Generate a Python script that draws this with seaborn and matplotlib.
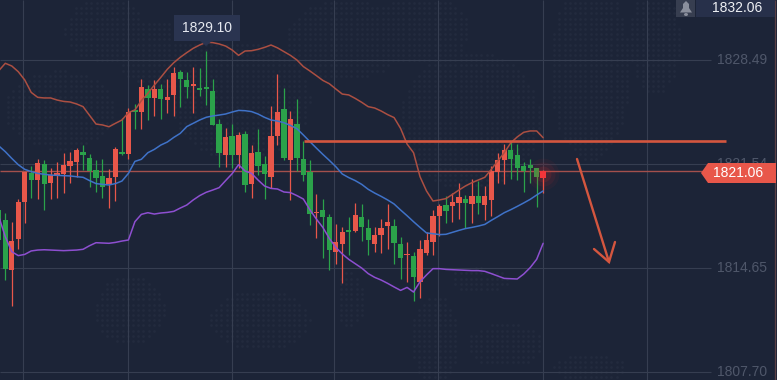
import numpy as np
import pandas as pd
import matplotlib.pyplot as plt
from matplotlib.patches import Polygon, Rectangle, Ellipse
import seaborn as sns

# candle index -1 sits just off the left edge, 83 is the live candle
candle_idx = list(range(-1, 84))

opens = [1818.49, 1817.82, 1814.49, 1816.56, 1819.02, 1820.93, 1820.49, 1821.53, 1820.29, 1820.78, 1820.89,
         1821.42, 1821.69, 1822.36, 1821.96, 1821.13, 1820.76, 1820.22, 1820.69, 1822.33, 1822.22, 1825.16,
         1825.02, 1826.53, 1825.96, 1826.53, 1825.82, 1826.16, 1827.67, 1827.13, 1826.78, 1826.60, 1826.60,
         1826.42, 1824.22, 1822.16, 1823.42, 1822.16, 1823.56, 1820.22, 1822.36, 1821.56, 1820.71, 1823.42,
         1825.22, 1821.82, 1824.22, 1821.89, 1821.00, 1818.29, 1818.49, 1818.02, 1815.69, 1816.22, 1817.11,
         1817.09, 1818.02, 1817.29, 1816.22, 1816.82, 1817.45, 1817.42, 1816.22, 1815.47, 1815.42, 1813.69,
         1815.62, 1816.36, 1818.09, 1818.82, 1818.76, 1818.96, 1819.22, 1818.89, 1819.42, 1818.82, 1819.16,
         1821.02, 1821.82, 1822.49, 1822.16, 1821.42, 1821.49, 1821.29, 1820.62]
closes = [1816.49, 1814.58, 1816.42, 1819.02, 1821.00, 1820.49, 1821.62, 1820.22, 1820.82, 1820.93, 1821.49,
          1821.73, 1822.49, 1822.16, 1821.09, 1820.62, 1820.02, 1820.60, 1822.53, 1822.22, 1825.02, 1825.05,
          1826.69, 1825.93, 1826.53, 1825.89, 1826.02, 1827.60, 1827.22, 1826.69, 1826.82, 1826.49, 1826.56,
          1824.16, 1822.29, 1823.36, 1822.16, 1823.49, 1820.16, 1822.29, 1821.42, 1820.89, 1823.42, 1825.02,
          1821.96, 1824.56, 1821.96, 1820.82, 1818.22, 1818.36, 1818.02, 1815.82, 1816.33, 1817.02, 1817.05,
          1818.16, 1817.36, 1816.49, 1816.82, 1817.29, 1817.67, 1816.29, 1815.29, 1815.51, 1814.02, 1815.89,
          1816.49, 1818.09, 1818.76, 1818.42, 1819.02, 1819.36, 1818.96, 1819.42, 1818.96, 1819.42, 1821.09,
          1821.82, 1822.49, 1821.89, 1821.29, 1821.09, 1821.29, 1820.69, 1821.06]
highs = [1818.70, 1818.27, 1817.71, 1819.20, 1821.00, 1821.42, 1821.87, 1821.82, 1821.27, 1821.69, 1822.27,
         1822.38, 1822.60, 1822.82, 1822.22, 1821.82, 1821.87, 1821.22, 1822.67, 1824.60, 1825.27, 1825.56,
         1827.20, 1826.82, 1827.16, 1826.87, 1827.20, 1828.00, 1827.82, 1827.69, 1828.00, 1827.96, 1829.10,
         1827.20, 1824.53, 1823.93, 1824.20, 1823.67, 1823.76, 1822.82, 1823.89, 1822.09, 1825.42, 1827.56,
         1826.62, 1825.09, 1825.89, 1823.09, 1821.82, 1819.53, 1819.22, 1818.22, 1817.56, 1817.33, 1818.02,
         1818.93, 1818.89, 1817.89, 1817.38, 1817.89, 1818.89, 1817.89, 1816.67, 1816.36, 1815.69, 1816.49,
         1817.05, 1818.49, 1818.89, 1819.42, 1819.60, 1820.27, 1819.49, 1820.53, 1820.42, 1820.09, 1821.42,
         1822.27, 1822.89, 1823.09, 1822.89, 1821.69, 1821.89, 1821.29, 1821.16]
lows = [1816.27, 1813.82, 1812.09, 1815.89, 1817.60, 1819.27, 1819.20, 1818.49, 1819.20, 1819.27, 1819.60,
        1820.27, 1820.71, 1821.16, 1820.05, 1819.67, 1819.27, 1818.65, 1819.09, 1822.16, 1821.89, 1823.89,
        1823.89, 1824.49, 1824.76, 1824.56, 1824.93, 1824.76, 1825.36, 1825.93, 1824.93, 1826.09, 1825.49,
        1824.16, 1821.38, 1821.36, 1821.29, 1821.29, 1819.69, 1819.29, 1820.82, 1819.22, 1819.93, 1822.82,
        1821.82, 1819.16, 1821.09, 1820.42, 1817.49, 1816.62, 1815.29, 1814.49, 1814.89, 1813.62, 1815.49,
        1817.02, 1816.42, 1815.49, 1815.69, 1815.62, 1815.89, 1814.89, 1813.89, 1813.69, 1812.45, 1812.62,
        1815.49, 1815.49, 1816.76, 1817.62, 1817.69, 1817.89, 1817.29, 1817.62, 1818.22, 1817.82, 1818.09,
        1820.29, 1820.22, 1820.56, 1820.49, 1819.69, 1820.29, 1818.69, 1819.60]

upper_band = [1827.78, 1828.27, 1828.09, 1827.71, 1827.16, 1826.33, 1826.00, 1825.96, 1825.96, 1825.82, 1825.73,
              1825.69, 1825.56, 1825.38, 1824.80, 1824.22, 1824.16, 1824.04, 1824.27, 1824.49, 1824.98, 1825.16,
              1825.78, 1826.27, 1826.82, 1827.33, 1827.87, 1828.31, 1828.67, 1828.98, 1829.27, 1829.49, 1829.67,
              1829.65, 1829.56, 1829.42, 1829.16, 1828.80, 1829.09, 1829.11, 1829.20, 1829.33, 1829.49, 1829.30,
              1829.05, 1828.80, 1828.49, 1828.05, 1827.76, 1827.45, 1827.13, 1826.91, 1826.56, 1826.22, 1826.16,
              1825.93, 1825.67, 1825.38, 1825.29, 1825.09, 1824.85, 1824.65, 1823.93, 1822.89, 1822.31, 1820.71,
              1819.76, 1819.09, 1819.16, 1819.25, 1819.53, 1819.82, 1820.09, 1820.31, 1820.49, 1820.67, 1821.20,
              1821.76, 1822.31, 1822.96, 1823.36, 1823.67, 1823.76, 1823.76, 1823.31]
mid_band = [1822.76, 1822.38, 1821.93, 1821.51, 1821.20, 1821.05, 1820.93, 1820.87, 1820.82, 1820.80, 1820.78,
            1820.76, 1820.71, 1820.67, 1820.45, 1820.25, 1820.20, 1820.16, 1820.25, 1820.42, 1820.93, 1821.73,
            1821.87, 1822.31, 1822.53, 1822.82, 1823.02, 1823.33, 1823.60, 1824.05, 1824.27, 1824.49, 1824.67,
            1824.76, 1824.82, 1824.89, 1825.02, 1825.13, 1825.11, 1825.05, 1824.89, 1824.67, 1824.49, 1824.42,
            1824.31, 1824.13, 1823.91, 1823.49, 1823.05, 1822.62, 1822.20, 1821.80, 1821.38, 1820.89, 1820.65,
            1820.45, 1820.20, 1819.87, 1819.62, 1819.40, 1819.16, 1818.89, 1818.49, 1818.11, 1817.71, 1817.33,
            1816.96, 1816.91, 1816.85, 1816.87, 1817.00, 1817.13, 1817.25, 1817.33, 1817.42, 1817.53, 1817.80,
            1818.05, 1818.31, 1818.51, 1818.73, 1818.96, 1819.20, 1819.49, 1819.76]
lower_band = [1818.05, 1816.71, 1815.71, 1815.45, 1815.53, 1815.76, 1815.82, 1815.84, 1815.82, 1815.80, 1815.78,
              1815.80, 1815.82, 1815.87, 1816.11, 1816.31, 1816.29, 1816.27, 1816.33, 1816.42, 1816.49, 1817.71,
              1818.20, 1818.31, 1818.22, 1818.29, 1818.33, 1818.40, 1818.62, 1818.82, 1819.16, 1819.45, 1819.67,
              1819.82, 1819.98, 1820.45, 1820.91, 1821.51, 1821.09, 1820.93, 1820.49, 1820.09, 1819.93, 1819.89,
              1819.69, 1819.65, 1819.45, 1819.22, 1818.51, 1817.89, 1817.33, 1816.60, 1816.00, 1815.56, 1815.20,
              1814.91, 1814.62, 1814.25, 1814.00, 1813.82, 1813.60, 1813.36, 1813.13, 1813.33, 1813.02, 1813.71,
              1814.16, 1814.58, 1814.58, 1814.53, 1814.51, 1814.49, 1814.47, 1814.45, 1814.45, 1814.40, 1814.25,
              1814.09, 1813.93, 1813.91, 1813.89, 1814.22, 1814.65, 1815.20, 1816.27]

axis_prices = [1828.49, 1821.54, 1814.65, 1807.70]
axis_labels = ["1828.49", "1821.54", "1814.65", "1807.70"]
last_price = 1821.06
top_price = 1832.06
peak_price = 1829.10
resistance = 1823.06

BG = "#1c2437"
RED = "#e8574a"
GREEN = "#2ba24a"
GRID = "#363e51"
ANNOT = "#d4563f"

sns.set_theme(style="dark", rc={"figure.facecolor": BG, "axes.facecolor": BG})
plt.rcParams["font.family"] = ["Liberation Sans", "DejaVu Sans"]


# picture pixels to data, used only for the overlay furniture
def xp(px):
    return (px - 5.3) / 6.48


def yp(py):
    return 1828.49 - (py - 60) / 15


fig = plt.figure(figsize=(7.77, 3.80), dpi=100)
ax = fig.add_axes([0, 0, 1, 1])
ax.set_xlim(xp(0), xp(777))
ax.set_ylim(yp(380), yp(0))
ax.axis("off")

# faint dotted world map behind everything
blobs = [(105, 30, 40, 32), (175, 55, 60, 35), (60, 110, 55, 40), (240, 100, 70, 60),
         (345, 40, 60, 40), (420, 30, 50, 35), (470, 120, 70, 70), (590, 70, 40, 90),
         (655, 40, 25, 55), (350, 300, 14, 28), (435, 340, 24, 45), (505, 345, 38, 22),
         (590, 368, 36, 14), (130, 310, 35, 35), (260, 320, 50, 30), (480, 280, 30, 12)]
gx, gy = np.meshgrid(np.arange(3, 700, 5.2), np.arange(3, 380, 5.2))
keep = np.zeros(gx.shape, dtype=bool)
for cx, cy, rx, ry in blobs:
    keep |= ((gx - cx) / rx) ** 2 + ((gy - cy) / ry) ** 2 < 1
ax.scatter(xp(gx[keep]), yp(gy[keep]), s=4, color="#222a3e", linewidths=0, zorder=1)

# grid
ax.hlines(axis_prices, xp(0), xp(711), color=GRID, lw=0.8, zorder=2)
ax.vlines([xp(v) for v in (23.3, 127.6, 231.6, 334.4, 438.3, 542.6, 646.6)],
          yp(380), yp(0), color=GRID, lw=0.8, zorder=2)

df = pd.DataFrame({"idx": candle_idx, "open": opens, "high": highs, "low": lows, "close": closes})
df["color"] = np.where(df["close"] >= df["open"], RED, GREEN)

# last price line runs under the candles
ax.hlines(last_price, xp(0), xp(705), color="#a3504c", lw=1.0, zorder=3)

ax.vlines(df["idx"], df["low"], df["high"], color=df["color"], lw=0.9, zorder=4)
ax.bar(df["idx"], (df["close"] - df["open"]).abs().clip(lower=0.1), bottom=df[["open", "close"]].min(axis=1),
       width=0.82, color=df["color"], linewidth=0, edgecolor="none", zorder=5)

bands = pd.DataFrame({"idx": candle_idx, "upper": upper_band, "mid": mid_band, "lower": lower_band})
bands = bands.melt(id_vars="idx", var_name="band", value_name="price")
sns.lineplot(data=bands, x="idx", y="price", hue="band", estimator=None, sort=False, legend=False, ax=ax,
             palette={"upper": "#ab4f42", "mid": "#3f72c8", "lower": "#8d4fd0"}, lw=1.1, zorder=6)
ax.set_xlim(xp(0), xp(777))
ax.set_ylim(yp(380), yp(0))
ax.axis("off")

# glow on the live candle
for size, alpha in [(520, 0.05), (300, 0.08), (130, 0.12)]:
    ax.scatter(83, last_price - 0.2, s=size, color="#f0302c", alpha=alpha, linewidths=0, zorder=7)
ax.bar(83, last_price - opens[-1], bottom=opens[-1], width=0.82, color="#f2353a", linewidth=0, edgecolor="none", zorder=8)

# hand drawn resistance and arrow
ax.hlines(resistance, xp(304), xp(726), color=ANNOT, lw=1.9, zorder=9)
ax.plot([xp(577), xp(609)], [yp(159), yp(262)], color=ANNOT, lw=1.7, zorder=9, solid_capstyle="round")
ax.plot([xp(594), xp(609), xp(615)], [yp(249), yp(262), yp(242)], color=ANNOT, lw=1.7, zorder=9,
        solid_joinstyle="miter")

# price axis labels
for p, lab in zip(axis_prices, axis_labels):
    ax.text(xp(717), p, lab, color="#4f576a", fontsize=10, va="center", ha="left", zorder=10)

# peak tooltip
ax.add_patch(Rectangle((xp(174), yp(41)), xp(240) - xp(174), yp(15) - yp(41), color="#2a3450", lw=0, zorder=11))
ax.add_patch(Polygon([(xp(200), yp(41)), (xp(212), yp(41)), (xp(206), yp(46))], color="#2a3450", lw=0, zorder=11))
ax.text(xp(207), yp(28), f"{peak_price:.2f}", color="#e6e9f0", fontsize=10, ha="center", va="center", zorder=12)

# top right box with the bell
ax.add_patch(Rectangle((xp(696), yp(17)), xp(775) - xp(696), yp(0) - yp(17), color="#27304a", lw=0, zorder=11))
ax.add_patch(Rectangle((xp(676), yp(17)), xp(695) - xp(676), yp(0) - yp(17), color="#373e50", lw=0, zorder=11))
ax.add_patch(Polygon([(xp(680), yp(12.5)), (xp(683), yp(8)), (xp(683), yp(4)), (xp(686), yp(1)), (xp(689), yp(4)),
                      (xp(689), yp(8)), (xp(692), yp(12.5))], color="#8a8f9c", lw=0, zorder=12))
ax.add_patch(Ellipse((xp(686), yp(14.5)), xp(690) - xp(686), yp(12.5) - yp(15.5), color="#8a8f9c", lw=0, zorder=12))
ax.text(xp(737.5), yp(7.5), f"{top_price:.2f}", color="#eef0f4", fontsize=10, ha="center", va="center", zorder=12)

# last price tag
ax.add_patch(Polygon([(xp(701), yp(173)), (xp(708), yp(163)), (xp(776), yp(163)), (xp(776), yp(183)), (xp(708), yp(183))],
                     color=RED, lw=0, zorder=11))
ax.text(xp(738.5), yp(173), f"{last_price:.2f}", color="white", fontsize=10, ha="center", va="center", zorder=12)

# right edge
ax.vlines(xp(775.5), yp(380), yp(0), color="#5a3f45", lw=0.9, zorder=10)

fig.savefig("out.png", dpi=100, facecolor=BG)
plt.close()
